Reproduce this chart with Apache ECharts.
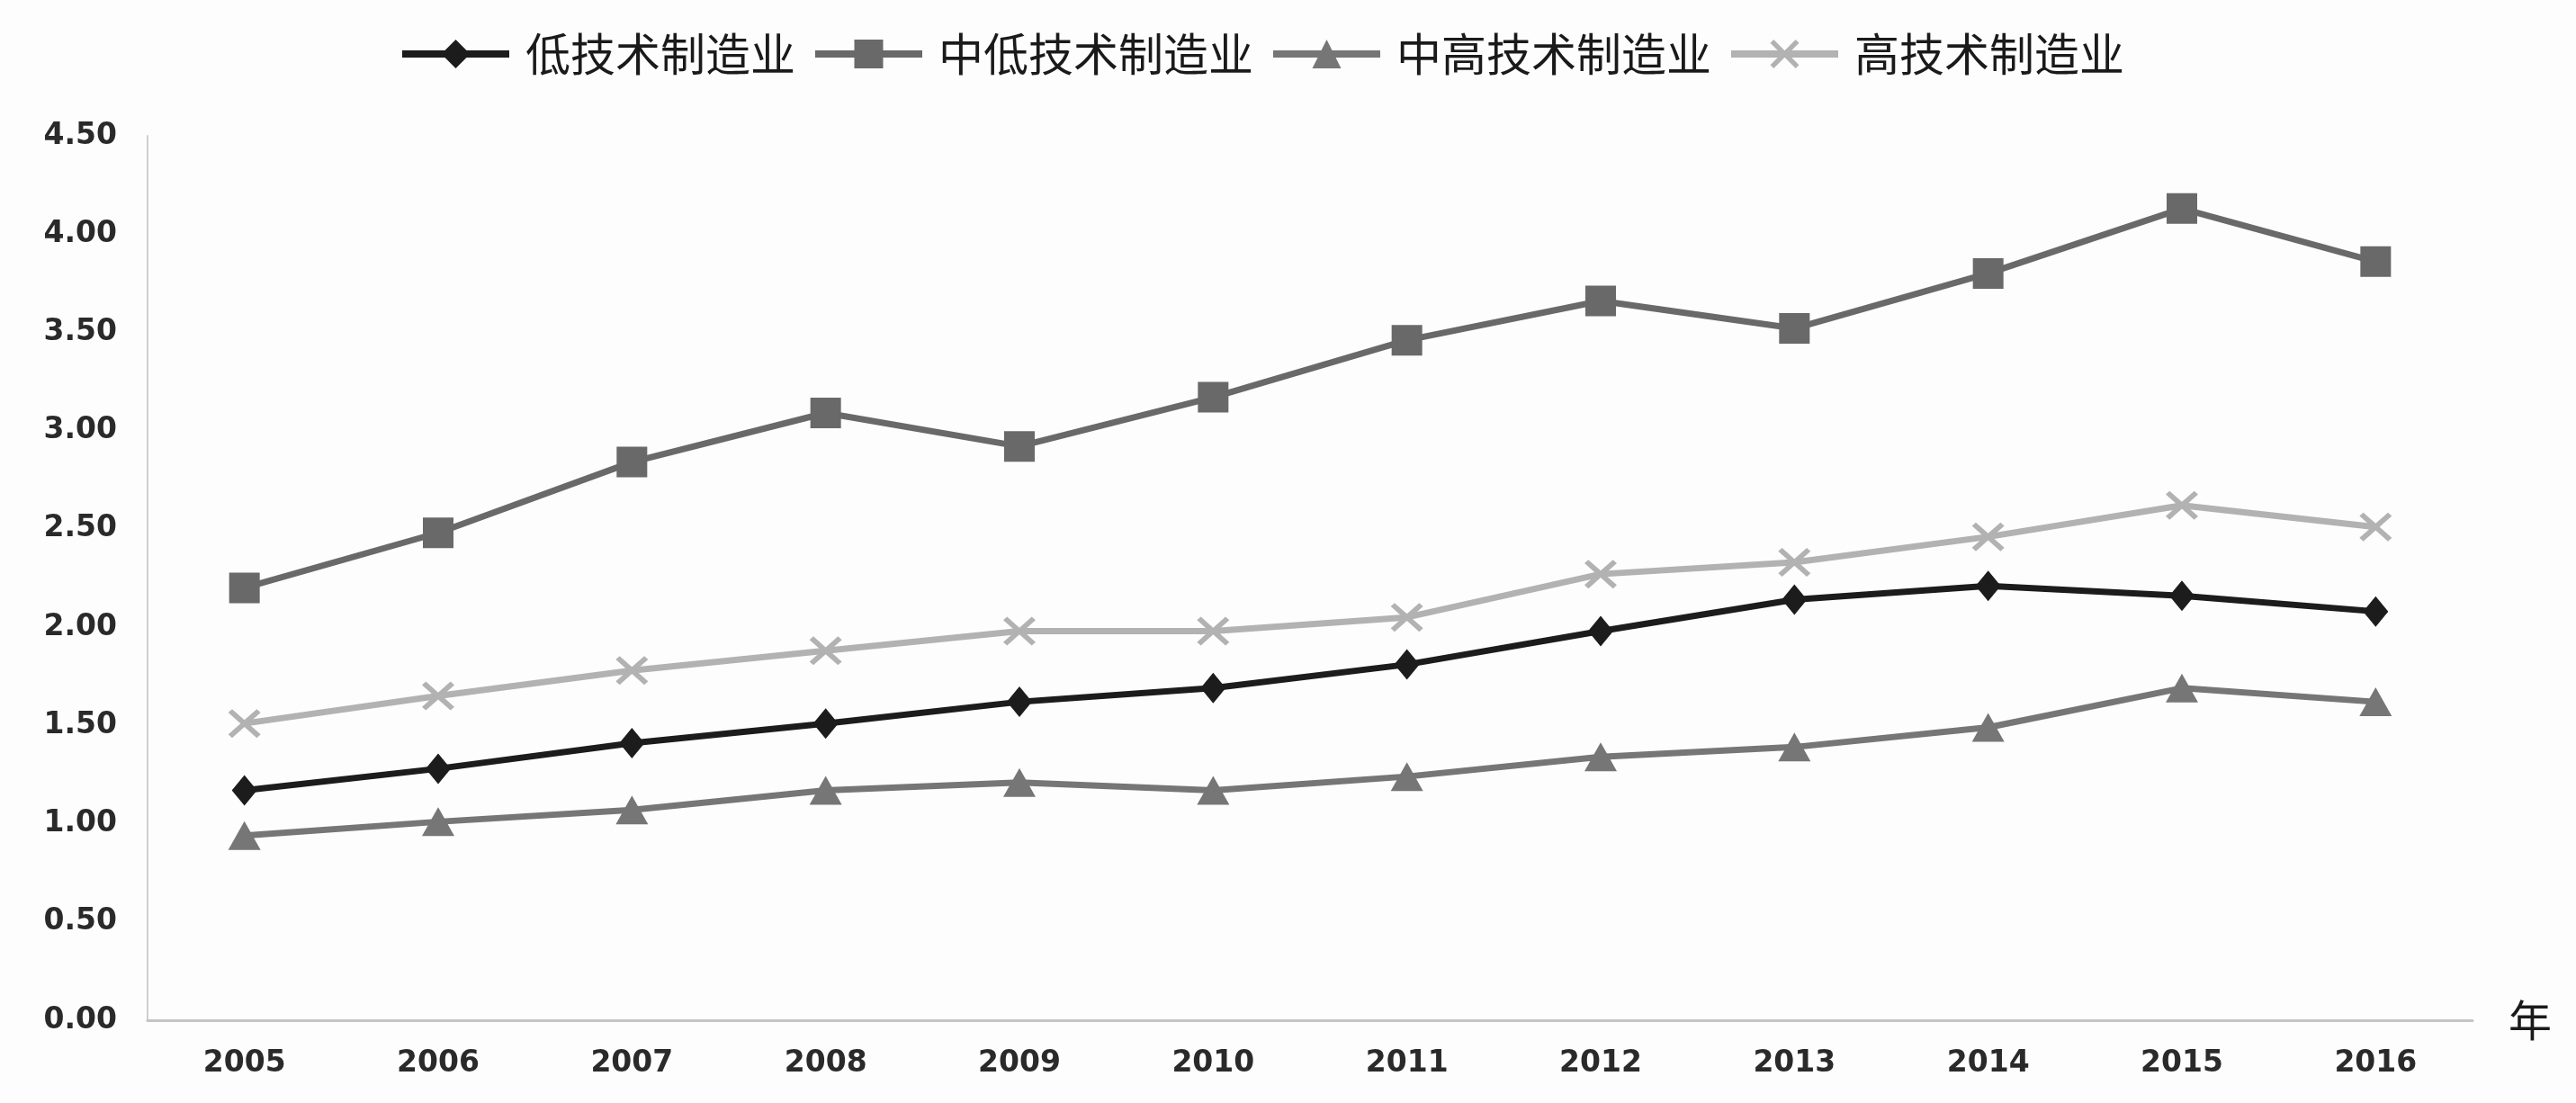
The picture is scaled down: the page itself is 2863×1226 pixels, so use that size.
<!DOCTYPE html>
<html>
<head>
<meta charset="utf-8">
<script src="https://cdn.jsdelivr.net/npm/echarts@6/dist/echarts.min.js"></script>
<style>
html,body{margin:0;padding:0;background:#fdfdfd;}
#chart{width:2863px;height:1226px;}
</style>
</head>
<body>
<div id="chart"></div>
<script>
const years = ['2005','2006','2007','2008','2009','2010','2011','2012','2013','2014','2015','2016'];
const seriesNames = ['低技术制造业','中低技术制造业','中高技术制造业','高技术制造业'];
const lowTech = [1.17,1.28,1.41,1.51,1.62,1.69,1.81,1.98,2.14,2.21,2.16,2.08];
const midLowTech = [2.20,2.48,2.84,3.09,2.92,3.17,3.46,3.66,3.52,3.80,4.13,3.86];
const midHighTech = [0.94,1.01,1.07,1.17,1.21,1.17,1.24,1.34,1.39,1.49,1.69,1.62];
const highTech = [1.51,1.65,1.78,1.88,1.98,1.98,2.05,2.27,2.33,2.46,2.62,2.51];
const yTicks = { min: 0, max: 4.5, interval: 0.5 };
const xName = '年';

const crossPath = 'path://M0,1.2 L1.2,0 L5,3.8 L8.8,0 L10,1.2 L6.2,5 L10,8.8 L8.8,10 L5,6.2 L1.2,10 L0,8.8 L3.8,5 Z';

const chart = echarts.init(document.getElementById('chart'), null, {renderer:'canvas'});
const labelFont = { fontFamily: 'DejaVu Sans', fontSize: 33, fontWeight: 'bold', color: '#2a2a2a' };

function mk(name, data, color, symbol, size) {
  return {
    name: name, type: 'line', data: data,
    symbol: symbol, symbolSize: size,
    lineStyle: { color: color, width: 7 },
    itemStyle: { color: color },
    emphasis: { disabled: true },
    animation: false
  };
}

chart.setOption({
  backgroundColor: '#fdfdfd',
  animation: false,
  legend: {
    left: 438, top: 30,
    itemWidth: 119, itemHeight: 40, itemGap: 18,
    lineStyle: { width: 8 },
    textStyle: { fontFamily: 'Noto Sans CJK SC', fontSize: 50, color: '#1a1a1a', padding: [0,0,0,13] },
    data: seriesNames
  },
  grid: { left: 164, right: 115, top: 151, bottom: 92, containLabel: false },
  xAxis: {
    type: 'category', data: years, boundaryGap: true,
    name: xName, nameLocation: 'end', nameGap: 40,
    nameTextStyle: { fontFamily: 'Noto Sans CJK SC', fontSize: 48, color: '#1a1a1a' },
    axisLine: { show: true, lineStyle: { color: '#c4c4c4', width: 3 } },
    axisTick: { show: false },
    axisLabel: Object.assign({ margin: 32 }, labelFont),
    splitLine: { show: false }
  },
  yAxis: {
    type: 'value', min: yTicks.min, max: yTicks.max, interval: yTicks.interval,
    axisLine: { show: true, lineStyle: { color: '#cfcfcf', width: 2 } },
    axisTick: { show: false },
    axisLabel: Object.assign({ margin: 34, formatter: v => v.toFixed(2) }, labelFont),
    splitLine: { show: false }
  },
  series: [
    mk(seriesNames[0], lowTech, '#1c1c1c', 'diamond', [28, 34]),
    mk(seriesNames[1], midLowTech, '#696969', 'rect', [34, 34]),
    mk(seriesNames[2], midHighTech, '#767676', 'triangle', [36, 32]),
    mk(seriesNames[3], highTech, '#b2b2b2', crossPath, [36, 32])
  ]
});
</script>
</body>
</html>
